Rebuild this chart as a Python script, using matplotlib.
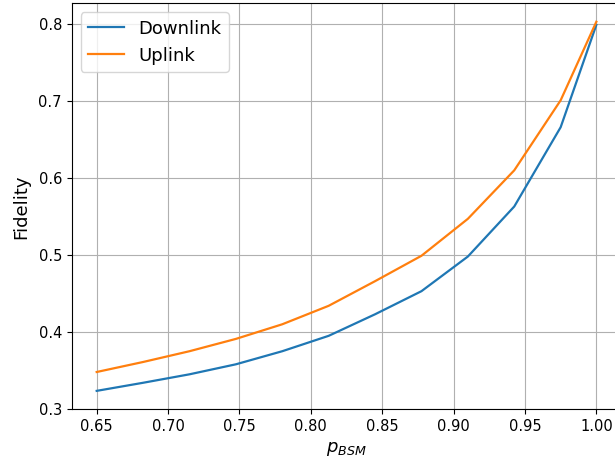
import matplotlib
matplotlib.use("Agg")
import matplotlib.pyplot as plt

# p_BSM sample points and fidelity
p_bsm = [0.65, 0.6825, 0.715, 0.7475, 0.78, 0.8125, 0.845, 0.8775, 0.91, 0.9425, 0.975, 1.0]
downlink = [0.3235, 0.334, 0.345, 0.358, 0.375, 0.395, 0.423, 0.453, 0.498, 0.563, 0.666, 0.799]
uplink = [0.348, 0.361, 0.375, 0.391, 0.410, 0.434, 0.466, 0.499, 0.547, 0.610, 0.701, 0.803]

fig = plt.figure(figsize=(6.15, 4.58), dpi=100)
# right spine sits just past the canvas edge in the reference
ax = fig.add_axes([0.1166, 0.1063, 0.8937, 0.8865])
ax.plot(p_bsm, downlink, label="Downlink", linewidth=1.6)
ax.plot(p_bsm, uplink, label="Uplink", linewidth=1.6)
ax.set_xlabel(r"$p_{BSM}$", fontsize=13)
ax.set_ylabel("Fidelity", fontsize=13, labelpad=6)
ax.tick_params(labelsize=10.5)
ax.grid(True)
ax.legend(loc="upper left", fontsize=13)
fig.savefig("out.png", dpi=100)
